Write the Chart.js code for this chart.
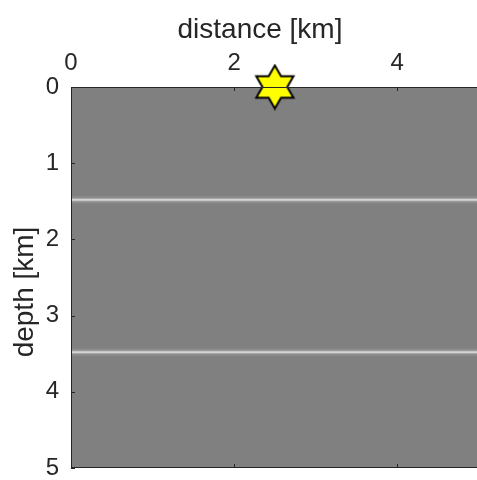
<!DOCTYPE html>
<html>
<head>
<meta charset="utf-8">
<script src="https://cdn.jsdelivr.net/npm/chart.js@4/dist/chart.umd.min.js"></script>
<style>
  html, body { margin: 0; padding: 0; background: #fff; }
  #wrap { width: 477px; height: 480px; }
</style>
</head>
<body>
<div id="wrap"><canvas id="myChart"></canvas></div>
<script>
// data
const distTicks = [0, 2, 4];
const depthTicks = [0, 1, 2, 3, 4, 5];
const distRange = [0, 4.98];
const depthRange = [0, 5];
const layerDepths = [1.48, 3.48];
const sourceDist = [2.5];
const sourceDepth = [0];

const txt = "#262626";
const font = "'Liberation Sans', Arial, Helvetica, sans-serif";

// six-pointed star marker
function hexagram(R) {
  const c = document.createElement("canvas");
  const s = Math.ceil(R * 2 + 4);
  c.width = s; c.height = s;
  const g = c.getContext("2d");
  const r = R / Math.sqrt(3);
  g.beginPath();
  for (let i = 0; i < 12; i++) {
    const a = -Math.PI / 2 + i * Math.PI / 6;
    const rr = i % 2 === 0 ? R : r;
    const px = s / 2 + rr * Math.cos(a), py = s / 2 + rr * Math.sin(a);
    if (i === 0) g.moveTo(px, py); else g.lineTo(px, py);
  }
  g.closePath();
  g.fillStyle = "#ffff00";
  g.fill();
  g.lineWidth = 2;
  g.strokeStyle = "#000";
  g.stroke();
  return c;
}

const datasets = [];
layerDepths.forEach((d) => {
  const pts = [{ x: distRange[0], y: d }, { x: distRange[1], y: d }];
  const base = { data: pts, showLine: true, pointRadius: 0, fill: false };
  datasets.push({ ...base, borderColor: "rgba(255,255,255,0.10)", borderWidth: 7 });
  datasets.push({ ...base, borderColor: "rgba(255,255,255,0.22)", borderWidth: 3.5 });
  datasets.push({ ...base, borderColor: "rgba(235,235,235,0.85)", borderWidth: 1.3 });
});
datasets.push({
  data: sourceDist.map((x, i) => ({ x: x, y: sourceDepth[i] })),
  showLine: false,
  pointStyle: hexagram(21.5),
  pointRadius: 22,
  clip: false
});

const frame = {
  id: "frame",
  beforeDraw(chart) {
    const a = chart.chartArea, ctx = chart.ctx;
    ctx.save();
    ctx.fillStyle = "#808080";
    ctx.fillRect(a.left, a.top, a.right - a.left, a.bottom - a.top);
    ctx.restore();
  },
  afterDatasetsDraw(chart) {
    const a = chart.chartArea, ctx = chart.ctx;
    const x = chart.scales.x, y = chart.scales.y;
    ctx.save();
    ctx.strokeStyle = txt;
    ctx.lineWidth = 1;
    // inward ticks
    ctx.beginPath();
    distTicks.forEach((v) => {
      const px = Math.round(x.getPixelForValue(v)) + 0.5;
      ctx.moveTo(px, a.top); ctx.lineTo(px, a.top + 4);
      ctx.moveTo(px, a.bottom); ctx.lineTo(px, a.bottom - 4);
    });
    depthTicks.forEach((v) => {
      const py = Math.round(y.getPixelForValue(v)) + 0.5;
      ctx.moveTo(a.left, py); ctx.lineTo(a.left + 4, py);
    });
    ctx.stroke();
    // box
    ctx.beginPath();
    ctx.moveTo(a.right, a.top + 0.5); ctx.lineTo(a.left + 0.5, a.top + 0.5);
    ctx.lineTo(a.left + 0.5, a.bottom - 0.5); ctx.lineTo(a.right, a.bottom - 0.5);
    ctx.stroke();
    // axis titles
    ctx.fillStyle = txt;
    ctx.font = "28px " + font;
    ctx.textAlign = "center";
    ctx.textBaseline = "alphabetic";
    ctx.fillText("distance [km]", a.left + 189, 38);
    ctx.translate(33, a.top + 205);
    ctx.rotate(-Math.PI / 2);
    ctx.fillText("depth [km]", 0, 0);
    ctx.restore();
  }
};

const config = {
  type: "scatter",
  data: { datasets },
  options: {
    responsive: false,
    animation: false,
    devicePixelRatio: 1,
    layout: { autoPadding: false, padding: { top: 0, left: 0, right: 0, bottom: 12 } },
    plugins: { legend: { display: false }, tooltip: { enabled: false } },
    scales: {
      x: {
        type: "linear",
        position: "top",
        min: distRange[0],
        max: distRange[1],
        afterBuildTicks: (s) => { s.ticks = distTicks.map((v) => ({ value: v })); },
        afterFit: (s) => { s.height = 87; s.paddingLeft = 0; s.paddingRight = 0; },
        grid: { display: false, drawTicks: false },
        border: { display: false },
        ticks: { color: txt, font: { size: 24, family: font }, padding: 9, maxRotation: 0 }
      },
      y: {
        type: "linear",
        reverse: true,
        min: depthRange[0],
        max: depthRange[1],
        afterBuildTicks: (s) => { s.ticks = depthTicks.map((v) => ({ value: v })); },
        afterFit: (s) => { s.width = 71; s.paddingTop = 0; s.paddingBottom = 0; },
        grid: { display: false, drawTicks: false },
        border: { display: false },
        ticks: { color: txt, font: { size: 24, family: font }, padding: 12 }
      }
    }
  },
  plugins: [frame]
};

const cv = document.getElementById("myChart");
cv.width = 477; cv.height = 480;
var myChart = new Chart(cv, config);
</script>
</body>
</html>
